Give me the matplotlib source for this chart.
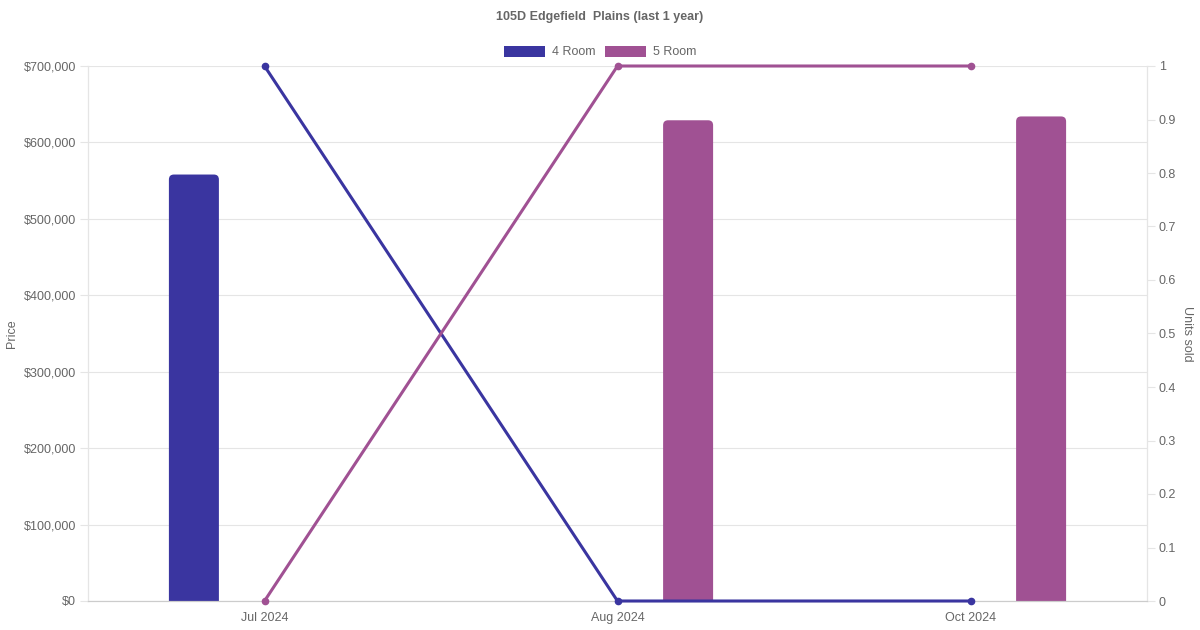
"""Price bars and units-sold lines for 105D Edgefield Plains, last 12 months."""

import matplotlib.pyplot as plt
import numpy as np
from matplotlib.patches import FancyBboxPatch, Patch
from matplotlib.ticker import FuncFormatter, MultipleLocator

plt.rcParams["font.family"] = ["Liberation Sans", "DejaVu Sans"]

MONTHS = ["Jul 2024", "Aug 2024", "Oct 2024"]
ROOM_TYPES = ["4 Room", "5 Room"]
PRICE_4ROOM = [558000, None, None]
PRICE_5ROOM = [None, 629000, 634000]
UNITS_4ROOM = [1, 0, 0]
UNITS_5ROOM = [0, 1, 1]

COLORS = {"4 Room": "#3A35A0", "5 Room": "#A05193"}
TEXT_COLOR = "#666666"
GRID_COLOR = "#E5E5E5"

fig = plt.figure(figsize=(12, 6.3), dpi=100)
ax = fig.add_axes([88 / 1200, 29 / 630, (1147 - 88) / 1200, (601 - 66) / 630])
ax2 = ax.twinx()

x = np.arange(len(MONTHS))
ax.set_xlim(-0.5, len(MONTHS) - 0.5)
ax.set_ylim(0, 700000)
ax2.set_ylim(0, 1)

# Bars: two slots per month, each 0.4 wide, bars capped at 50 px.
bar_w = 50 / 353
offsets = {"4 Room": -0.2, "5 Room": 0.2}
prices = {"4 Room": PRICE_4ROOM, "5 Room": PRICE_5ROOM}

fig.canvas.draw()
px_x = ax.transData.inverted().transform([(0, 0), (1, 1)])
dx_per_px = px_x[1, 0] - px_x[0, 0]
dy_per_px = px_x[1, 1] - px_x[0, 1]
radius = 5 * dx_per_px

for room in ROOM_TYPES:
    for xi, price in zip(x, prices[room]):
        if price is None:
            continue
        left = xi + offsets[room] - bar_w / 2
        bottom = -10 * dy_per_px
        patch = FancyBboxPatch(
            (left, bottom), bar_w, price - bottom,
            boxstyle=f"round,pad=0,rounding_size={radius}",
            mutation_aspect=dy_per_px / dx_per_px,
            facecolor=COLORS[room], edgecolor="none", zorder=2,
        )
        ax.add_patch(patch)

units = {"4 Room": UNITS_4ROOM, "5 Room": UNITS_5ROOM}
for room in ROOM_TYPES:
    ax2.plot(x, units[room], color=COLORS[room], linewidth=2.2, marker="o",
             markersize=4.5, zorder=3, clip_on=False)

# Axes styling
ax.yaxis.set_major_locator(MultipleLocator(100000))
ax.yaxis.set_major_formatter(FuncFormatter(lambda v, _: f"${v:,.0f}"))
ax2.yaxis.set_major_locator(MultipleLocator(0.1))
ax2.yaxis.set_major_formatter(FuncFormatter(lambda v, _: f"{v:.1f}".rstrip("0").rstrip(".") if v else "0"))
ax.set_xticks(x, MONTHS)

ax.grid(axis="y", color=GRID_COLOR, linewidth=0.8, zorder=0)
ax.set_axisbelow(True)
for a in (ax, ax2):
    a.spines["top"].set_visible(False)
    a.spines["left"].set_color(GRID_COLOR)
    a.spines["right"].set_color(GRID_COLOR)
    a.spines["bottom"].set_color("#CCCCCC")
    a.tick_params(colors=TEXT_COLOR, labelsize=9, length=6, width=0.8)
    a.tick_params(axis="y", color=GRID_COLOR, pad=2.5)
ax.tick_params(axis="x", length=0, pad=8)

ax.set_ylabel("Price", color=TEXT_COLOR, fontsize=9, labelpad=4)
ax2.set_ylabel("Units sold", color=TEXT_COLOR, fontsize=9, rotation=270, labelpad=12)

fig.text(0.5, 1 - 17 / 630, "105D Edgefield  Plains (last 1 year)", ha="center", va="center",
         fontsize=9, fontweight="bold", color=TEXT_COLOR)

handles = [Patch(facecolor=COLORS[r], edgecolor="none", label=r) for r in ROOM_TYPES]
fig.legend(handles=handles, loc="center", bbox_to_anchor=(0.5, 1 - 52 / 630), ncol=2,
           frameon=False, fontsize=9, labelcolor=TEXT_COLOR, handlelength=3.3,
           handleheight=1.0, handletextpad=0.5, columnspacing=0.8)

fig.savefig("out.png", dpi=100)
